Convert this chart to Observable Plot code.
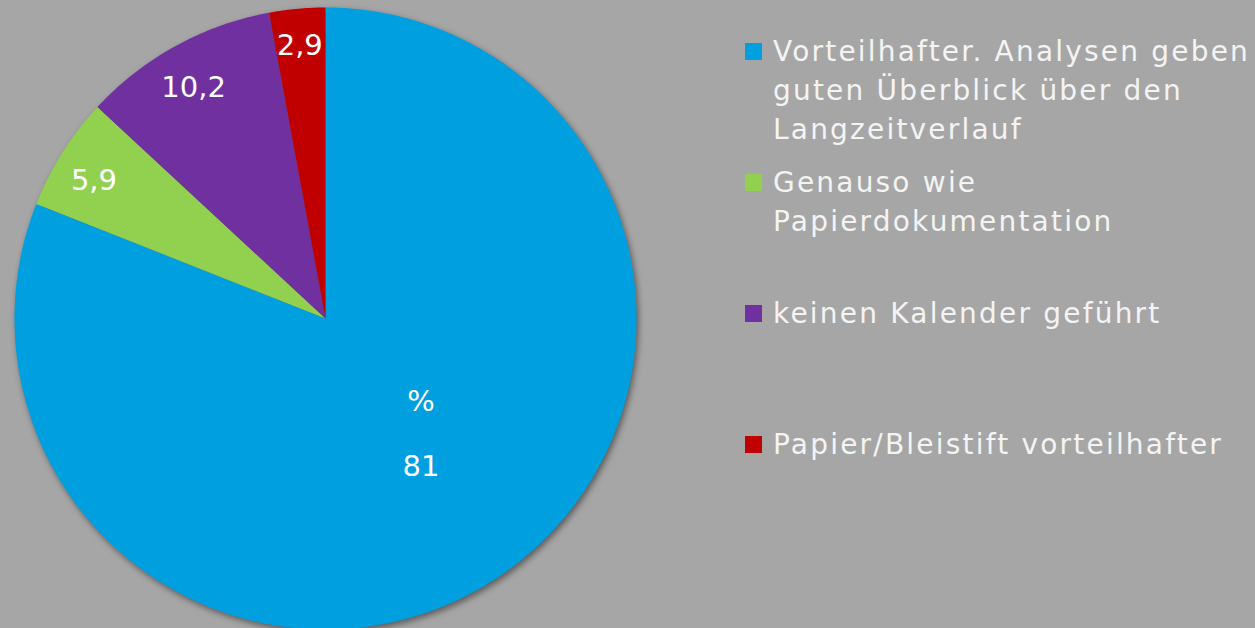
<!DOCTYPE html>
<html>
<head>
<meta charset="utf-8">
<script src="https://cdn.jsdelivr.net/npm/d3@7"></script>
<script src="https://cdn.jsdelivr.net/npm/@observablehq/plot@0.6"></script>
<style>
  html, body { margin: 0; padding: 0; background: #a6a6a6; width: 1255px; height: 628px; overflow: hidden; }
  #chart { position: absolute; left: 0; top: 0; }
  #chart svg g[aria-label="line"] { filter: drop-shadow(2px 3px 3px rgba(0,0,0,0.45)); }
  #legend { position: absolute; left: 745px; top: 32px; font-family: "DejaVu Sans", Verdana, sans-serif; font-size: 28px; color: #f4f4f4; letter-spacing: 2.2px; }
  .item { position: relative; height: 131px; padding-left: 28px; line-height: 39px; white-space: nowrap; }
  .sw { position: absolute; left: 0; top: 11px; width: 17px; height: 17px; }
</style>
</head>
<body>
<div id="chart"></div>
<div id="legend"></div>
<script>
const categories = [
  "Vorteilhafter. Analysen geben guten Überblick über den Langzeitverlauf",
  "Genauso wie Papierdokumentation",
  "keinen Kalender geführt",
  "Papier/Bleistift vorteilhafter"
];
const values = [81, 5.9, 10.2, 2.9];
const valueLabels = ["%\n81", "5,9", "10,2", "2,9"];
const colors = ["#009fdf", "#92d050", "#7030a0", "#c00000"];
const legendLines = [
  ["Vorteilhafter. Analysen geben", "guten Überblick über den", "Langzeitverlauf"],
  ["Genauso wie", "Papierdokumentation"],
  ["keinen Kalender geführt"],
  ["Papier/Bleistift vorteilhafter"]
];

const total = d3.sum(values);
let acc = 0;
const slices = values.map((v, i) => {
  const a0 = acc / total * 2 * Math.PI;
  acc += v;
  const a1 = acc / total * 2 * Math.PI;
  return {name: categories[i], value: v, label: valueLabels[i], a0, a1};
});

// polygon points for each slice (angle clockwise from 12 o'clock)
const pts = [];
for (const s of slices) {
  pts.push({name: s.name, x: 0, y: 0});
  const n = Math.max(2, Math.ceil((s.a1 - s.a0) / (Math.PI / 360)));
  for (let k = 0; k <= n; k++) {
    const a = s.a0 + (s.a1 - s.a0) * k / n;
    pts.push({name: s.name, x: Math.sin(a), y: Math.cos(a)});
  }
  pts.push({name: s.name, x: 0, y: 0});
}

const labels = slices.map(s => {
  const m = (s.a0 + s.a1) / 2;
  const r = s.value > 50 ? 0.46 : (s.value < 5 ? 0.91 : 0.88);
  return {label: s.label, big: s.value > 50, x: r * Math.sin(m), y: r * Math.cos(m)};
});

const textStyle = {fill: "white", fontSize: 29, lineHeight: 2.25,
  fontFamily: "DejaVu Sans, Verdana, sans-serif", style: {letterSpacing: "2px"}};

const plot = Plot.plot({
  width: 650,
  height: 628,
  style: {background: "transparent", overflow: "visible"},
  x: {domain: [-1, 1], range: [14, 636], axis: null},
  y: {domain: [-1, 1], range: [629, 7], axis: null},
  color: {domain: categories, range: colors},
  marks: [
    Plot.line(pts, {x: "x", y: "y", z: "name", fill: "name", stroke: "none", curve: "linear"}),
    Plot.text(labels.filter(d => d.big), {x: "x", y: "y", text: "label", dx: 15, dy: -14, ...textStyle}),
    Plot.text(labels.filter(d => !d.big), {x: "x", y: "y", text: "label", dy: -3, ...textStyle})
  ]
});
document.getElementById("chart").appendChild(plot);

const leg = document.getElementById("legend");
categories.forEach((c, i) => {
  const item = document.createElement("div");
  item.className = "item";
  const sw = document.createElement("div");
  sw.className = "sw";
  sw.style.background = plot.scale("color").apply(c);
  item.appendChild(sw);
  legendLines[i].forEach(l => {
    const d = document.createElement("div");
    d.textContent = l;
    item.appendChild(d);
  });
  leg.appendChild(item);
});
</script>
</body>
</html>
